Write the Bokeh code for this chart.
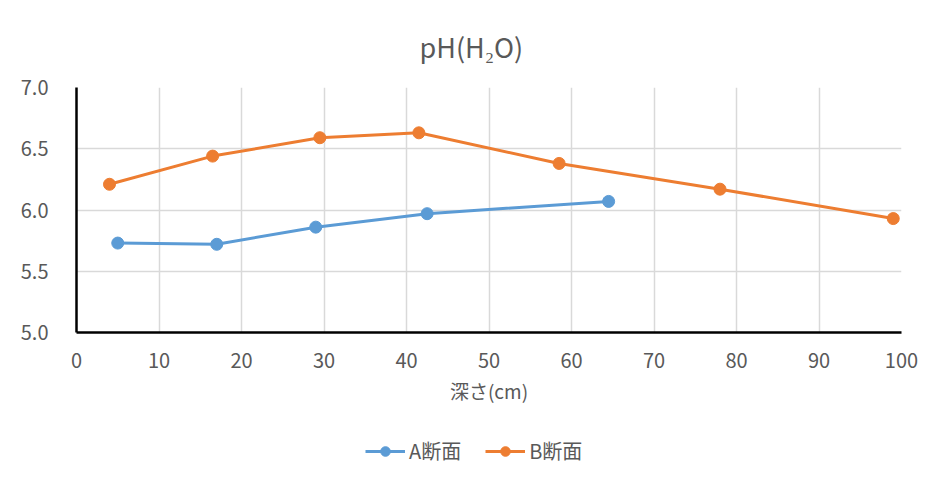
from bokeh.plotting import figure
from bokeh.layouts import column
from bokeh.models import FixedTicker, Legend, LegendItem, Range1d, PrintfTickFormatter
from bokeh.embed import file_html
from bokeh.resources import INLINE

title_text = "pH(H₂O)"
x_label = "深さ(cm)"
series_a_name = "A断面"
series_b_name = "B断面"
a_depth = [5, 17, 29, 42.5, 64.5]
a_ph = [5.73, 5.72, 5.86, 5.97, 6.07]
b_depth = [4, 16.5, 29.5, 41.5, 58.5, 78, 99]
b_ph = [6.21, 6.44, 6.59, 6.63, 6.38, 6.17, 5.93]
x_ticks = [0, 10, 20, 30, 40, 50, 60, 70, 80, 90, 100]
y_ticks = [5.0, 5.5, 6.0, 6.5, 7.0]

BLUE = "#5B9BD5"
ORANGE = "#ED7D31"
TXT = "#595959"
FONT = "Noto Sans CJK JP"

p = figure(width=922, height=410, output_backend="svg", toolbar_location=None,
           x_range=Range1d(0, 100), y_range=Range1d(5.0, 7.0),
           min_border_left=76, min_border_right=21, min_border_top=87, min_border_bottom=78)
p.outline_line_color = None
p.background_fill_color = "white"
p.border_fill_color = "white"

p.title.text = title_text
p.title.align = "left"
p.title.offset = 343
p.title.text_font = FONT
p.title.text_font_size = "27px"
p.title.text_font_style = "normal"
p.title.text_color = TXT
p.title.standoff = 44

for ax in (p.xaxis[0], p.yaxis[0]):
    ax.axis_line_color = "black"
    ax.axis_line_width = 2.5
    ax.major_tick_line_color = None
    ax.minor_tick_line_color = None
    ax.major_label_text_font = FONT
    ax.major_label_text_font_size = "20px"
    ax.major_label_text_color = TXT

p.xaxis.ticker = FixedTicker(ticks=x_ticks)
p.yaxis.ticker = FixedTicker(ticks=y_ticks)
p.yaxis.formatter = PrintfTickFormatter(format="%.1f")
p.xaxis.major_label_standoff = 14
p.yaxis.major_label_standoff = 22
p.xaxis.axis_label = x_label
p.xaxis.axis_label_text_font = FONT
p.xaxis.axis_label_text_font_size = "19px"
p.xaxis.axis_label_text_font_style = "normal"
p.xaxis.axis_label_text_color = TXT
p.xaxis.axis_label_standoff = 6

p.xgrid.ticker = FixedTicker(ticks=x_ticks)
p.ygrid.ticker = FixedTicker(ticks=y_ticks)
p.grid.grid_line_color = "#D9D9D9"
p.grid.grid_line_width = 1.5

p.line(a_depth, a_ph, line_color=BLUE, line_width=3)
p.scatter(a_depth, a_ph, size=12, fill_color=BLUE, line_color=BLUE)
p.line(b_depth, b_ph, line_color=ORANGE, line_width=3)
p.scatter(b_depth, b_ph, size=12, fill_color=ORANGE, line_color=ORANGE)

# legend strip below the chart (series drawn off-screen only to provide legend glyphs)
q = figure(width=922, height=64, output_backend="svg", toolbar_location=None,
           x_axis_type=None, y_axis_type=None,
           x_range=Range1d(-1000, -999), y_range=Range1d(-1000, -999),
           min_border_left=0, min_border_right=0, min_border_top=0, min_border_bottom=0)
q.outline_line_color = None
q.background_fill_color = "white"
q.border_fill_color = "white"
qa_l = q.line(a_depth, a_ph, line_color=BLUE, line_width=3)
qa_s = q.scatter(a_depth, a_ph, size=12, fill_color=BLUE, line_color=BLUE)
qb_l = q.line(b_depth, b_ph, line_color=ORANGE, line_width=3)
qb_s = q.scatter(b_depth, b_ph, size=12, fill_color=ORANGE, line_color=ORANGE)

legend = Legend(items=[LegendItem(label=series_a_name, renderers=[qa_l, qa_s]),
                       LegendItem(label=series_b_name, renderers=[qb_l, qb_s])],
                orientation="horizontal", location=(289, 9),
                border_line_color=None, background_fill_alpha=0,
                label_text_font=FONT, label_text_font_size="20px", label_text_color=TXT,
                glyph_width=40, glyph_height=24, label_standoff=4, spacing=24,
                margin=0, padding=0)
q.add_layout(legend, "center")

layout = column(p, q, spacing=0)
open("out.html", "w").write(file_html(layout, INLINE))
